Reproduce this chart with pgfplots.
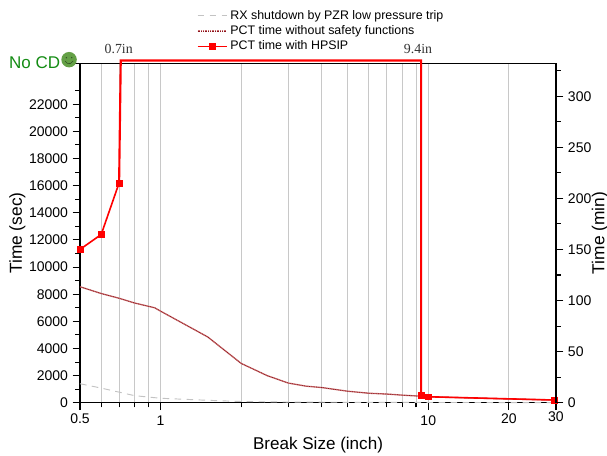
\documentclass[border=0pt]{standalone}
\usepackage{pgfplots}
\pgfplotsset{compat=1.18}
\usepackage{fontspec}
\setmainfont{Liberation Sans}
\newfontfamily\timesf{Liberation Serif}
\definecolor{gridg}{RGB}{200,200,200}
\definecolor{dashg}{RGB}{195,195,195}
\definecolor{pinkb}{RGB}{200,110,110}
\definecolor{darkb}{RGB}{140,20,30}
\definecolor{cdg}{RGB}{20,140,20}
\definecolor{smile}{RGB}{100,160,70}
\newcommand\xl[2]{\raisebox{#1}[7.2pt][0pt]{#2}}
\begin{document}
\begin{tikzpicture}
\useasboundingbox (0pt,0pt) rectangle (455.25pt,341.25pt);
\begin{axis}[
  name=main,
  at={(60pt,39.2pt)},anchor=south west,
  scale only axis,width=357pt,height=254.4pt,
  xmode=log,log basis x=10,
  xmin=0.5,xmax=30,ymin=0,ymax=25000,
  xtick pos=bottom,ytick pos=left,
  axis line style={line width=1pt,black,-},
  clip=false,
  xtick={0.5,1,10,20,30},
  xticklabels={\xl{2.2pt}{0.5},\xl{0.7pt}{1},\xl{0.7pt}{10},\xl{2.2pt}{20},\xl{3.7pt}{30}},
  minor xtick={0.6,0.7,0.8,0.9,1,2,3,4,5,6,7,8,9,10,20},
  xminorgrids=true,
  minor grid style={gridg,line width=0.75pt},
  ytick={0,2000,...,22000},
  minor ytick={1000,3000,...,24000},
  scaled y ticks=false,
  /pgf/number format/assume math mode=true,
  yticklabel style={/pgf/number format/fixed,/pgf/number format/1000 sep={},font=\fontsize{10.5}{12}\selectfont},
  xticklabel style={font=\fontsize{10.5}{12}\selectfont,yshift=-1.2pt},
  tick style={black,line width=0.8pt},
  major tick length=5.5pt,minor tick length=3.5pt,
  tick align=outside,
  xlabel={Break Size (inch)},
  ylabel={Time (sec)},
  xlabel style={font=\fontsize{12.8}{15}\selectfont,at={(axis description cs:0.5,0)},anchor=north,yshift=-22.5pt},
  ylabel style={font=\fontsize{13}{15}\selectfont,at={(axis description cs:0,0.5)},anchor=center,yshift=47pt},
  legend style={at={(axis description cs:0.2455,1.165)},anchor=north west,draw=none,fill=none,
    font=\fontsize{9.3}{10}\selectfont,row sep=-0.7pt,inner sep=0pt,outer sep=0pt,
    /tikz/every even column/.append style={column sep=2pt}},
  legend cell align=left,
  legend image code/.code={\draw[mark repeat=2,mark phase=2,#1] plot coordinates {(0pt,0pt)(11pt,0pt)(22pt,0pt)};},
]
\addplot[dashg,line width=0.7pt,dash pattern=on 5pt off 4pt] coordinates {
 (0.5,1400)(0.6,1080)(0.7,780)(0.8,520)(1,330)(1.5,180)(2,90)(3,50)(5,30)(10,20)(30,10)};
\addlegendentry{RX shutdown by PZR low pressure trip}
\addplot[pinkb,line width=1pt,forget plot] coordinates {
 (0.5,8550)(0.6,8050)(0.7,7700)(0.8,7350)(0.95,7000)(1,6750)(1.5,4850)(2,2900)(2.5,2000)(3,1450)(3.5,1220)(4,1120)(5,850)(6,700)(7,640)(8,560)(9.4,480)(10,440)(20,280)(30,200)};
\addplot[darkb,line width=0.5pt,dash pattern=on 0.6pt off 0.7pt,
  legend image code/.code={\draw[pinkb,line width=1pt] (0pt,0pt) -- (22pt,0pt);\draw[darkb,line width=0.5pt,dash pattern=on 0.6pt off 0.7pt] (0pt,0pt) -- (22pt,0pt);}] coordinates {
 (0.5,8550)(0.6,8050)(0.7,7700)(0.8,7350)(0.95,7000)(1,6750)(1.5,4850)(2,2900)(2.5,2000)(3,1450)(3.5,1220)(4,1120)(5,850)(6,700)(7,640)(8,560)(9.4,480)(10,440)(20,280)(30,200)};
\addlegendentry{PCT time without safety functions}
\addplot[red,line width=1.2pt,mark=square*,mark size=2.2pt,mark options={solid,fill=red,line width=0.4pt}] coordinates {
 (0.5,11300)(0.6,12400)(0.7,16200)};
\addlegendentry{PCT time with HPSIP}
\addplot[red,line width=1.6pt,forget plot] coordinates {
 (0.7,16200)(0.71,25220)(9.4,25220)(9.4,520)};
\addplot[red,line width=1.2pt,mark=square*,mark size=2.2pt,mark options={fill=red,line width=0.4pt},forget plot] coordinates {
 (9.4,520)(10,440)(29.5,200)};
\end{axis}
\begin{axis}[
  at={(60pt,39.2pt)},anchor=south west,
  scale only axis,width=357pt,height=254.4pt,
  xmode=log,xmin=0.5,xmax=30,ymin=0,ymax=332,
  axis x line=none,axis y line*=right,
  axis line style={line width=1pt,black,-},
  ytick={0,50,...,300},
  minor ytick={25,75,...,325},
  /pgf/number format/assume math mode=true,
  yticklabel style={font=\fontsize{10.5}{12}\selectfont},
  tick style={black,line width=0.8pt},
  major tick length=5.5pt,minor tick length=3.5pt,
  tick align=outside,
  ylabel={Time (min)},
  ylabel style={font=\fontsize{13}{15}\selectfont,at={(axis description cs:1,0.5)},anchor=center,rotate=0,yshift=-33pt},
]
\addplot[draw=none,forget plot] coordinates {(1,0)(10,10)};
\end{axis}
\node[anchor=base,font=\timesf\fontsize{10.4}{12}\selectfont,text=black!80] at (89pt,301pt) {0.7in};
\node[anchor=base,font=\timesf\fontsize{10.4}{12}\selectfont,text=black!80] at (313.5pt,301pt) {9.4in};
\node[anchor=base west,inner sep=0pt,font=\fontsize{12.75}{15}\selectfont,text=cdg] at (6.7pt,290pt) {No CD};
\fill[smile] (51.8pt,296.5pt) circle (5.8pt);
\fill[black!50!smile] (49.8pt,298pt) circle (0.55pt) (53.8pt,298pt) circle (0.55pt);
\draw[black!50!smile,line width=0.4pt] (48.8pt,295.5pt) arc[start angle=200,end angle=340,radius=3.2pt];
\end{tikzpicture}
\end{document}
